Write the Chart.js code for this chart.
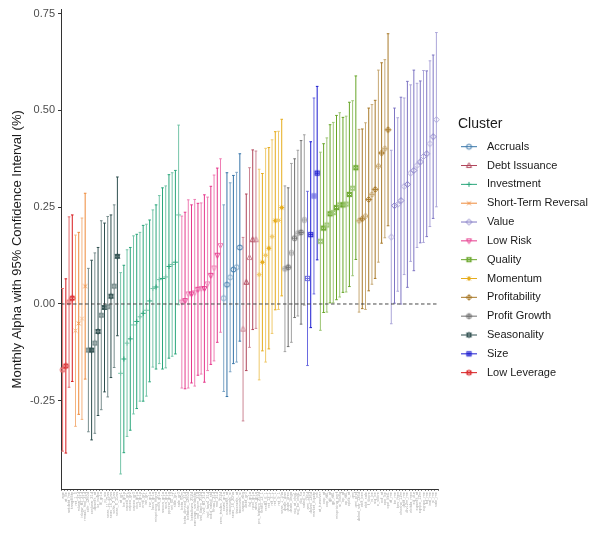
<!DOCTYPE html>
<html>
<head>
  <title>Cluster Alphas</title>
  <script src="https://cdn.jsdelivr.net/npm/chart.js"></script>
  <style>
    body { margin: 0; background: #fff; }
  </style>
</head>
<body>
<canvas id="alphaChart" width="596" height="540"></canvas>

<script>
// --- data, left to right on the x axis ---
const lowLeverageNames = ['age', 'at_be', 'netdebt_me', 'tangibility'];
const lowLeverageAlpha = [-0.17, -0.16, 0.005, 0.015];
const lowLeverageCI = [0.21, 0.225, 0.22, 0.215];

const strNames = ['ret_1_0', 'rskew_21d', 'iskew_ff3_21d', 'rmax5_rvol_21d'];
const strAlpha = [-0.069, -0.05, -0.038, 0.046];
const strCI = [0.247, 0.235, 0.26, 0.24];

const seasonNames = ['corr_1260d', 'coskew_21d', 'dbnetis_at', 'kz_index', 'lti_gr1a', 'pi_nix',
  'seas_11_15an', 'seas_16_20an', 'seas_2_5an', 'seas_6_10an'];
const seasonAlpha = [-0.119, -0.119, -0.101, -0.071, -0.029, -0.009, -0.007, 0.02, 0.046, 0.123];
const seasonCI = [0.211, 0.232, 0.233, 0.217, 0.244, 0.218, 0.233, 0.21, 0.21, 0.205];

const investNames = ['at_gr1', 'be_gr1a', 'capex_gr1', 'capex_gr2', 'capex_gr3', 'coa_gr1a', 'col_gr1a',
  'emp_gr1', 'inv_gr1', 'inv_gr1a', 'lnoa_gr1a', 'mispricing_mgmt', 'ncoa_gr1a', 'nncoa_gr1a',
  'noa_gr1a', 'ppeinv_gr1a', 'ret_60_12', 'sale_gr1', 'sale_gr3'];
const investAlpha = [-0.179, -0.142, -0.101, -0.09, -0.054, -0.045, -0.033, -0.024, -0.016, 0.008,
  0.04, 0.044, 0.063, 0.066, 0.07, 0.097, 0.102, 0.108, 0.23];
const investCI = [0.26, 0.242, 0.241, 0.236, 0.23, 0.225, 0.218, 0.227, 0.222, 0.209,
  0.203, 0.212, 0.217, 0.234, 0.235, 0.237, 0.237, 0.237, 0.232];

const lowRiskNames = ['beta_60m', 'beta_dimson_21d', 'betabab_1260d', 'betadown_252d', 'earnings_variability',
  'ivol_capm_21d', 'ivol_capm_252d', 'ivol_ff3_21d', 'ivol_hxz4_21d', 'ocfq_saleq_std', 'rmax1_21d',
  'rvol_21d', 'zero_trades_252d'];
const lowRiskAlpha = [0.005, 0.009, 0.026, 0.026, 0.029, 0.038, 0.04, 0.04, 0.052, 0.074, 0.093, 0.126, 0.151];
const lowRiskCI = [0.222, 0.228, 0.243, 0.23, 0.241, 0.222, 0.221, 0.242, 0.224, 0.23, 0.24, 0.225, 0.224];

const accrualsNames = ['cowc_gr1a', 'oaccruals_at', 'oaccruals_ni', 'seas_16_20na', 'taccruals_at', 'taccruals_ni'];
const accrualsAlpha = [0.015, 0.05, 0.069, 0.089, 0.095, 0.146];
const accrualsCI = [0.241, 0.289, 0.244, 0.243, 0.245, 0.242];

const debtNames = ['capex_abn', 'debt_gr3', 'fnl_gr1a', 'ncol_gr1a', 'nfna_gr1a'];
const debtAlpha = [-0.065, 0.056, 0.12, 0.166, 0.166];
const debtCI = [0.237, 0.228, 0.232, 0.232, 0.229];

const momNames = ['prc_highprc_252d', 'resff3_12_1', 'resff3_6_1', 'ret_12_1', 'ret_3_1', 'ret_6_1', 'ret_9_1', 'seas_1_1na'];
const momAlpha = [0.076, 0.108, 0.126, 0.144, 0.174, 0.215, 0.216, 0.249];
const momCI = [0.272, 0.229, 0.276, 0.26, 0.25, 0.23, 0.23, 0.228];

const pgNames = ['dsale_dinv', 'dsale_drec', 'dsale_dsga', 'niq_at_chg1', 'niq_be_chg1', 'niq_su', 'saleq_su'];
const pgAlpha = [0.091, 0.095, 0.132, 0.17, 0.183, 0.185, 0.217];
const pgCI = [0.214, 0.205, 0.231, 0.205, 0.214, 0.237, 0.22];

const sizeNames = ['ami_126d', 'dolvol_126d', 'market_equity', 'prc'];
const sizeAlpha = [0.066, 0.179, 0.279, 0.338];
const sizeCI = [0.225, 0.24, 0.253, 0.224];

const qualityNames = ['at_turnover', 'cop_at', 'cop_atl1', 'gp_at', 'gp_atl1', 'mispricing_perf', 'ni_inc8q',
  'op_at', 'op_atl1', 'opex_at', 'qmj', 'qmj_prof'];
const qualityAlpha = [0.162, 0.196, 0.204, 0.233, 0.236, 0.249, 0.256, 0.256, 0.258, 0.283, 0.299, 0.352];
const qualityCI = [0.23, 0.218, 0.225, 0.23, 0.233, 0.238, 0.238, 0.226, 0.227, 0.238, 0.226, 0.237];

const profitNames = ['dolvol_var_126d', 'ebit_bev', 'ebit_sale', 'f_score', 'ni_be', 'niq_be', 'o_score',
  'ocf_at', 'ope_be', 'ope_bel1'];
const profitAlpha = [0.215, 0.22, 0.227, 0.27, 0.283, 0.296, 0.356, 0.39, 0.401, 0.45];
const profitCI = [0.236, 0.232, 0.241, 0.236, 0.232, 0.23, 0.248, 0.233, 0.23, 0.248];

const valueNames = ['at_me', 'be_me', 'bev_mev', 'chcsho_12m', 'debt_me', 'div12m_me', 'ebitda_mev', 'eq_dur',
  'eqnetis_at', 'eqnpo_12m', 'eqnpo_me', 'fcf_me', 'ival_me', 'ni_me', 'sale_me'];
const valueAlpha = [0.173, 0.254, 0.257, 0.267, 0.304, 0.309, 0.338, 0.345, 0.358, 0.367, 0.381, 0.388, 0.414, 0.432, 0.476];
const valueCI = [0.224, 0.252, 0.224, 0.267, 0.228, 0.266, 0.228, 0.259, 0.212, 0.209, 0.222, 0.214, 0.214, 0.211, 0.225];

const yTicks = [-0.25, 0, 0.25, 0.5, 0.75];

const legendOrder = ['Accruals', 'Debt Issuance', 'Investment', 'Short-Term Reversal', 'Value', 'Low Risk',
  'Quality', 'Momentum', 'Profitability', 'Profit Growth', 'Seasonality', 'Size', 'Low Leverage'];

// --- styles ---
const clusterColor = {
  'Accruals': '#3674a8', 'Debt Issuance': '#b0455a', 'Investment': '#2aa67b',
  'Short-Term Reversal': '#ee8a3a', 'Value': '#7f76c4', 'Low Risk': '#e6388c',
  'Quality': '#67a527', 'Momentum': '#e6ac1c', 'Profitability': '#a97a2a',
  'Profit Growth': '#707070', 'Seasonality': '#2f4f4f', 'Size': '#1a1ad0', 'Low Leverage': '#d7191c'
};
const clusterShape = {
  'Accruals': 'circle', 'Debt Issuance': 'triangle', 'Investment': 'plus',
  'Short-Term Reversal': 'cross', 'Value': 'diamond', 'Low Risk': 'triDown',
  'Quality': 'squareX', 'Momentum': 'asterisk', 'Profitability': 'diamondPlus',
  'Profit Growth': 'circlePlus', 'Seasonality': 'star', 'Size': 'squarePlus', 'Low Leverage': 'circleX'
};

const clusterList = [
  ['Low Leverage', lowLeverageNames, lowLeverageAlpha, lowLeverageCI],
  ['Short-Term Reversal', strNames, strAlpha, strCI],
  ['Seasonality', seasonNames, seasonAlpha, seasonCI],
  ['Investment', investNames, investAlpha, investCI],
  ['Low Risk', lowRiskNames, lowRiskAlpha, lowRiskCI],
  ['Accruals', accrualsNames, accrualsAlpha, accrualsCI],
  ['Debt Issuance', debtNames, debtAlpha, debtCI],
  ['Momentum', momNames, momAlpha, momCI],
  ['Profit Growth', pgNames, pgAlpha, pgCI],
  ['Size', sizeNames, sizeAlpha, sizeCI],
  ['Quality', qualityNames, qualityAlpha, qualityCI],
  ['Profitability', profitNames, profitAlpha, profitCI],
  ['Value', valueNames, valueAlpha, valueCI]
];

function tint(hex, t) {
  const n = parseInt(hex.slice(1), 16);
  const r = n >> 16, g = (n >> 8) & 255, b = n & 255;
  const mix = c => Math.round(c + (255 - c) * t);
  return 'rgb(' + mix(r) + ',' + mix(g) + ',' + mix(b) + ')';
}

const markerCache = {};
function marker(shape, color) {
  const key = shape + color;
  if (markerCache[key]) return markerCache[key];
  const c = document.createElement('canvas');
  c.width = 9; c.height = 9;
  const g = c.getContext('2d');
  g.strokeStyle = color;
  g.lineWidth = 1;
  const m = 4.5, r = 2.5;
  const circle = () => { g.beginPath(); g.arc(m, m, r, 0, Math.PI * 2); g.stroke(); };
  const plus = () => { g.beginPath(); g.moveTo(m - r, m); g.lineTo(m + r, m); g.moveTo(m, m - r); g.lineTo(m, m + r); g.stroke(); };
  const cross = (k) => { const d = r * k; g.beginPath(); g.moveTo(m - d, m - d); g.lineTo(m + d, m + d); g.moveTo(m + d, m - d); g.lineTo(m - d, m + d); g.stroke(); };
  const square = () => { g.strokeRect(m - r * 0.85, m - r * 0.85, r * 1.7, r * 1.7); };
  const diamond = () => { g.beginPath(); g.moveTo(m, m - r - 0.4); g.lineTo(m + r + 0.4, m); g.lineTo(m, m + r + 0.4); g.lineTo(m - r - 0.4, m); g.closePath(); g.stroke(); };
  const tri = (down) => {
    const s = down ? -1 : 1;
    g.beginPath(); g.moveTo(m, m - s * (r + 0.3)); g.lineTo(m + r, m + s * r * 0.75); g.lineTo(m - r, m + s * r * 0.75); g.closePath(); g.stroke();
  };
  switch (shape) {
    case 'circle': circle(); break;
    case 'triangle': tri(false); break;
    case 'triDown': tri(true); break;
    case 'plus': plus(); break;
    case 'cross': cross(0.75); break;
    case 'diamond': diamond(); break;
    case 'squareX': square(); cross(0.85); break;
    case 'asterisk': plus(); cross(0.75); break;
    case 'diamondPlus': diamond(); plus(); break;
    case 'circlePlus': circle(); plus(); break;
    case 'star': tri(false); tri(true); break;
    case 'squarePlus': square(); plus(); break;
    case 'circleX': circle(); cross(0.72); break;
  }
  markerCache[key] = c;
  return c;
}

const labels = [], alpha = [], ranges = [], lo = [], hi = [], colors = [], styles = [];
clusterList.forEach(([cluster, names, a, ci]) => {
  names.forEach((n, i) => {
    labels.push(n);
    alpha.push(a[i]);
    lo.push(a[i] - ci[i]);
    hi.push(a[i] + ci[i]);
    ranges.push([a[i] - ci[i], a[i] + ci[i]]);
    const col = i % 2 === 0 ? tint(clusterColor[cluster], 0.35) : clusterColor[cluster];
    colors.push(col);
    styles.push(marker(clusterShape[cluster], col));
  });
});

const zeroLine = {
  id: 'zeroLine',
  afterDatasetsDraw(chart) {
    const {ctx, chartArea, scales} = chart;
    const y = scales.y.getPixelForValue(0);
    ctx.save();
    ctx.strokeStyle = '#333';
    ctx.lineWidth = 0.9;
    ctx.setLineDash([3.5, 2.5]);
    ctx.beginPath();
    ctx.moveTo(chartArea.left, y);
    ctx.lineTo(chartArea.right, y);
    ctx.stroke();
    ctx.restore();
  }
};

const clusterLegend = {
  id: 'clusterLegend',
  afterDraw(chart) {
    const ctx = chart.ctx;
    ctx.save();
    ctx.fillStyle = '#1a1a1a';
    ctx.textBaseline = 'middle';
    ctx.font = '14px "Liberation Sans", Arial, sans-serif';
    ctx.fillText('Cluster', 458, 124);
    ctx.font = '11px "Liberation Sans", Arial, sans-serif';
    legendOrder.forEach((name, i) => {
      const y = 146.7 + i * 18.83;
      const col = clusterColor[name];
      ctx.strokeStyle = col;
      ctx.lineWidth = 1;
      ctx.beginPath();
      ctx.moveTo(461, y);
      ctx.lineTo(477, y);
      ctx.stroke();
      const mk = marker(clusterShape[name], col);
      ctx.drawImage(mk, 469 - mk.width / 2, y - mk.height / 2);
      ctx.fillStyle = '#1a1a1a';
      ctx.fillText(name, 487, y);
    });
    ctx.restore();
  }
};

Chart.defaults.font.family = '"Liberation Sans", Arial, sans-serif';

new Chart(document.getElementById('alphaChart'), {
  type: 'bar',
  data: {
    labels: labels,
    datasets: [
      {
        type: 'line',
        data: alpha,
        showLine: false,
        pointStyle: styles,
        pointRadius: 3,
        order: 1
      },
      {
        type: 'line',
        data: hi,
        showLine: false,
        pointStyle: 'line',
        pointRadius: 1.3,
        pointBorderWidth: 1,
        pointBorderColor: colors,
        order: 2
      },
      {
        type: 'line',
        data: lo,
        showLine: false,
        pointStyle: 'line',
        pointRadius: 1.3,
        pointBorderWidth: 1,
        pointBorderColor: colors,
        order: 2
      },
      {
        data: ranges,
        backgroundColor: colors,
        barThickness: 1,
        inflateAmount: 0,
        borderWidth: 0,
        order: 3
      }
    ]
  },
  options: {
    responsive: false,
    animation: false,
    devicePixelRatio: 1,
    layout: { padding: { top: 7, right: 158, left: 0, bottom: 0 } },
    plugins: {
      legend: { display: false },
      tooltip: { enabled: false }
    },
    scales: {
      x: {
        offset: true,
        grid: { display: true, drawOnChartArea: false, drawTicks: true, tickLength: 2, color: '#555', lineWidth: 0.7 },
        border: { display: true, color: '#333', width: 1 },
        ticks: { autoSkip: false, minRotation: 90, maxRotation: 90, padding: 1, color: '#a8a8a8', font: { size: 4 } },
        afterFit(scale) { scale.height = 51; }
      },
      y: {
        min: -0.4778,
        max: 0.7603,
        afterBuildTicks(scale) { scale.ticks = yTicks.map(v => ({ value: v })); },
        grid: { display: true, drawOnChartArea: false, drawTicks: true, tickLength: 3, color: '#333' },
        border: { display: true, color: '#333', width: 1 },
        ticks: { color: '#4d4d4d', font: { size: 11 }, padding: 3, callback: v => v.toFixed(2) },
        title: {
          display: true,
          text: 'Monthly Alpha with 95% Confidence Interval (%)',
          color: '#1a1a1a',
          font: { size: 13 },
          padding: { top: 10, bottom: 0 }
        },
        afterFit(scale) { scale.width = 61; }
      }
    }
  },
  plugins: [zeroLine, clusterLegend]
});
</script>
</body>
</html>
